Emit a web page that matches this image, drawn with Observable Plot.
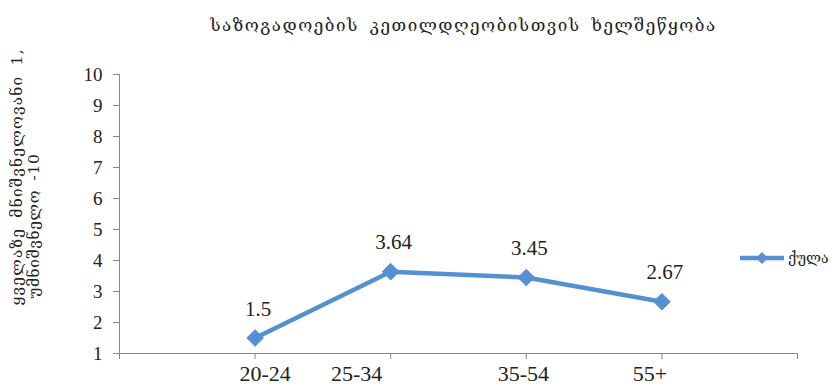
<!DOCTYPE html>
<html>
<head>
<meta charset="utf-8">
<script src="https://cdn.jsdelivr.net/npm/d3@7"></script>
<script src="https://cdn.jsdelivr.net/npm/@observablehq/plot@0.6"></script>
<style>
  html, body { margin: 0; padding: 0; background: #fff; }
  #wrap { position: relative; width: 840px; height: 390px; }
  #legend { position: absolute; left: 738px; top: 248px; display: flex; align-items: center;
            font-family: "DejaVu Serif", "DejaVu Sans", serif; font-size: 14px; color: #222; }
</style>
</head>
<body>
<div id="wrap"></div>
<script>
// ---- data ----
const title = "საზოგადოების კეთილდღეობისთვის ხელშეწყობა";
const yLabelLine1 = "ყველაზე მნიშვნელოვანი 1,";
const yLabelLine2 = "უმნიშვნელო -10";
const seriesName = "ქულა";
const categories = ["20-24", "25-34", "35-54", "55+"];
const values = [1.5, 3.64, 3.45, 2.67];
const yTicks = [1, 2, 3, 4, 5, 6, 7, 8, 9, 10];

// ---- styling ----
const blue = "#5490d2";
const axisGray = "#888888";
const serif = "Liberation Serif, Times New Roman, serif";
const geo = "DejaVu Serif, DejaVu Sans, serif";
const labelShift = [10, -34, -3, -12]; // hand-placed category labels in the original

const rows = categories.map((c, i) => ({cat: c, pos: i + 1, value: values[i]}));

const marks = [
  Plot.ruleX([0], {stroke: axisGray, strokeWidth: 1}),
  Plot.ruleY([1], {stroke: axisGray, strokeWidth: 1}),
  Plot.axisY({ticks: yTicks, tickSize: 6, tickPadding: 11, stroke: axisGray, fontSize: 19, fill: "#222", label: null}),
  Plot.axisX({ticks: d3.range(0, categories.length + 2), tickSize: 6, tickFormat: () => "", stroke: axisGray, label: null}),
  Plot.line(rows, {x: "pos", y: "value", stroke: blue, strokeWidth: 4.5, strokeLinejoin: "round"}),
  Plot.dot(rows, {x: "pos", y: "value", symbol: "diamond2", r: 7.5, fill: blue, stroke: blue, strokeWidth: 1}),
  Plot.text(rows, {x: "pos", y: "value", text: d => String(d.value), dy: -29, dx: 3, fontSize: 21, fill: "#222", fontFamily: serif}),
  ...rows.map((r, i) => Plot.text([r], {x: "pos", text: "cat", frameAnchor: "bottom", dy: 27, dx: labelShift[i], fontSize: 22, fill: "#222", fontFamily: serif})),
  Plot.text([title], {frameAnchor: "top", dy: -56, dx: 5, fontSize: 17, fill: "#222", fontFamily: geo,
    render: (i, s, v, d, c, next) => { const g = next(i, s, v, d, c); d3.select(g).selectAll("text").style("letter-spacing", "1.5px").style("word-spacing", "4px"); return g; }}),
  Plot.text([yLabelLine1], {frameAnchor: "bottom-left", dx: -98, dy: -48, rotate: -90, textAnchor: "start", fontSize: 15.5, fill: "#222", fontFamily: geo,
    render: (i, s, v, d, c, next) => { const g = next(i, s, v, d, c); d3.select(g).selectAll("text").style("letter-spacing", "1.2px").style("word-spacing", "4px"); return g; }}),
  Plot.text([yLabelLine2], {frameAnchor: "bottom-left", dx: -81, dy: -55, rotate: -90, textAnchor: "start", fontSize: 15.5, fill: "#222", fontFamily: geo,
    render: (i, s, v, d, c, next) => { const g = next(i, s, v, d, c); d3.select(g).selectAll("text").style("letter-spacing", "0.6px").style("word-spacing", "4px"); return g; }})
];

const chart = Plot.plot({
  width: 840,
  height: 390,
  marginLeft: 119,
  marginRight: 43,
  marginTop: 74,
  marginBottom: 37,
  style: {fontFamily: serif, background: "#fff", color: "#222", overflow: "visible"},
  x: {type: "linear", domain: [0, categories.length + 1], axis: null},
  y: {domain: [1, 10], axis: null},
  marks
});

const wrap = document.getElementById("wrap");
wrap.appendChild(chart);

// legend
const legend = document.createElement("div");
legend.id = "legend";
const ls = d3.create("svg").attr("width", 48).attr("height", 20);
ls.append("line").attr("x1", 2).attr("x2", 46).attr("y1", 10).attr("y2", 10)
  .attr("stroke", blue).attr("stroke-width", 4.5);
ls.append("path").attr("d", d3.symbol(d3.symbolDiamond2, 90)()).attr("transform", "translate(24,10)").attr("fill", blue);
legend.appendChild(ls.node());
const lt = document.createElement("span");
lt.textContent = seriesName;
lt.style.marginLeft = "2px";
legend.appendChild(lt);
wrap.appendChild(legend);
</script>
</body>
</html>
